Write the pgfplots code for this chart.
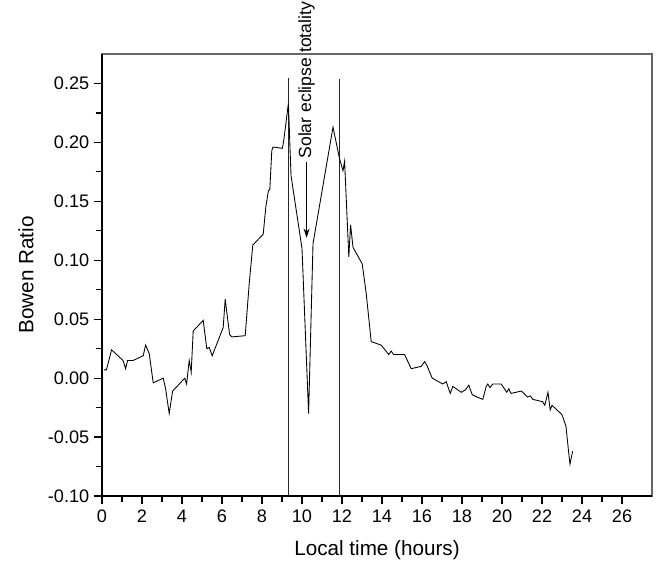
\documentclass[border=0pt]{standalone}
\usepackage{fontspec}
\setmainfont{Liberation Sans}
\usepackage{pgfplots}
\pgfplotsset{compat=1.18}
\usetikzlibrary{arrows.meta}
\begin{document}
\begin{tikzpicture}
\begin{axis}[
  at={(0,0)}, anchor=south west,
  scale only axis, width=412.5pt, height=331.5pt,
  xmin=0, xmax=27.5, ymin=-0.1, ymax=0.275,
  xtick={0,2,4,6,8,10,12,14,16,18,20,22,24,26},
  ytick={-0.1,-0.05,0,0.05,0.1,0.15,0.2,0.25},
  minor x tick num=1, minor y tick num=1,
  xtick pos=bottom, ytick pos=left,
  tick align=outside,
  major tick length=6pt, minor tick length=4.8pt,
  every tick/.style={black, line width=0.9pt},
  axis line style={draw=black!60, line width=0.9pt},
  /pgf/number format/assume math mode=true,
  yticklabel style={/pgf/number format/.cd, fixed, fixed zerofill, precision=2},
  xticklabel style={yshift=-1pt},
  tick label style={font=\fontsize{13.6}{16}\selectfont},
  label style={font=\fontsize{15.5}{18}\selectfont},
  xlabel={Local time (hours)},
  ylabel={Bowen Ratio},
  xlabel style={at={(axis description cs:0.5,-0.123)}, anchor=center},
  ylabel style={at={(axis description cs:-0.138,0.5)}, anchor=center},
  clip=false,
]
\addplot[black!85, line width=0.9pt] coordinates {(9.33,-0.1) (9.33,0.255)};
\addplot[black!85, line width=0.9pt] coordinates {(11.88,-0.1) (11.88,0.254)};
\addplot[black, line width=0.65pt] coordinates {
(0.10,0.007) (0.22,0.007) (0.48,0.024) (1.05,0.015) (1.18,0.008) (1.28,0.015)
(1.56,0.015) (2.06,0.019) (2.18,0.028) (2.36,0.021) (2.56,-0.004) (3.06,0.000)
(3.18,-0.009) (3.36,-0.030) (3.53,-0.011) (4.14,0.000) (4.23,-0.005) (4.36,0.015)
(4.46,0.005) (4.56,0.040) (5.06,0.049) (5.24,0.025) (5.36,0.026) (5.51,0.019)
(6.06,0.043) (6.16,0.067) (6.38,0.037) (6.50,0.035) (7.16,0.036) (7.36,0.080)
(7.54,0.113) (8.06,0.122) (8.19,0.145) (8.32,0.159) (8.39,0.160) (8.49,0.193)
(8.55,0.196) (9.02,0.195) (9.09,0.202) (9.32,0.233) (9.45,0.172) (10.00,0.110)
(10.33,-0.030) (10.55,0.114) (11.55,0.213) (11.88,0.186) (12.05,0.176) (12.13,0.184)
(12.34,0.103) (12.43,0.130) (12.55,0.111) (13.01,0.097) (13.21,0.072) (13.46,0.031)
(13.96,0.028) (14.34,0.020) (14.46,0.023) (14.58,0.020) (15.13,0.020) (15.46,0.008)
(15.96,0.010) (16.13,0.014) (16.24,0.011) (16.51,0.000) (17.04,-0.005) (17.21,-0.003)
(17.41,-0.013) (17.54,-0.007) (17.96,-0.012) (18.17,-0.010) (18.34,-0.006) (18.51,-0.014)
(18.74,-0.016) (19.04,-0.018) (19.21,-0.007) (19.29,-0.005) (19.40,-0.008) (19.54,-0.005)
(19.96,-0.005) (20.24,-0.012) (20.34,-0.009) (20.45,-0.013) (20.95,-0.011) (21.04,-0.012)
(21.28,-0.016) (21.42,-0.015) (21.54,-0.018) (22.03,-0.020) (22.14,-0.023) (22.30,-0.012)
(22.41,-0.027) (22.50,-0.023) (23.00,-0.031) (23.20,-0.041) (23.32,-0.061) (23.40,-0.073)
(23.53,-0.062)
};
\draw[-{Stealth[length=7pt,width=4.5pt]}, black, line width=0.8pt] (axis cs:10.23,0.183) -- (axis cs:10.23,0.119);
\node[rotate=90, anchor=west, inner sep=1pt, font=\fontsize{13.2}{15}\selectfont] at (axis cs:10.23,0.185) {Solar eclipse totality};
\end{axis}
\draw[black, line width=0.9pt] (0,331.5pt) -- (0,0) -- (412.5pt,0);
\path (-76.5pt,-49.5pt) rectangle (421.5pt,372pt);
\end{tikzpicture}
\end{document}
